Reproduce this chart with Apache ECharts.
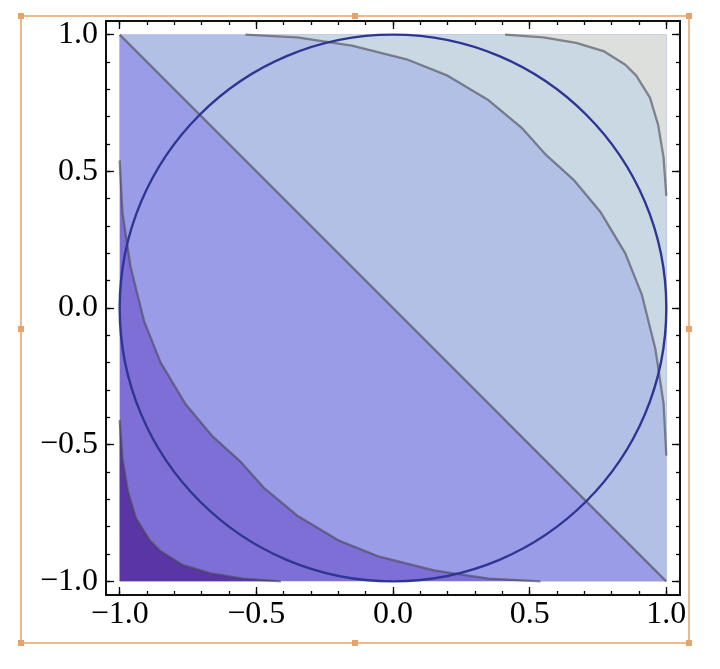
<!DOCTYPE html>
<html><head><meta charset="utf-8">
<script src="https://cdn.jsdelivr.net/npm/echarts@6/dist/echarts.min.js"></script>
<style>html,body{margin:0;padding:0;background:#fff}#c{width:720px;height:669px}</style>
</head><body><div id="c"></div>
<script>
// contour curves
var curveA = [[0.41,1],[0.55,0.99],[0.67,0.97],[0.77,0.94],[0.85,0.89],[0.89,0.85],[0.94,0.77],[0.97,0.67],[0.99,0.55],[1,0.41]];
var curveB = [[-0.54,1],[-0.35,0.99],[-0.15,0.96],[0.05,0.91],[0.2,0.85],[0.35,0.76],[0.47,0.66],[0.56,0.56],[0.66,0.47],[0.76,0.35],[0.85,0.2],[0.91,0.05],[0.96,-0.15],[0.99,-0.35],[1,-0.54]];
var curveC = [[-1,0.54],[-0.99,0.35],[-0.96,0.15],[-0.91,-0.05],[-0.85,-0.2],[-0.76,-0.35],[-0.66,-0.47],[-0.56,-0.56],[-0.47,-0.66],[-0.35,-0.76],[-0.2,-0.85],[-0.05,-0.91],[0.15,-0.96],[0.35,-0.99],[0.54,-1]];
var curveD = [[-1,-0.41],[-0.99,-0.55],[-0.97,-0.67],[-0.94,-0.77],[-0.89,-0.85],[-0.85,-0.89],[-0.77,-0.94],[-0.67,-0.97],[-0.55,-0.99],[-0.41,-1]];
var diagonal = [[-1,1],[1,-1]];
var circle = [[0,0,1]];
var majorTicks = [-1,-0.5,0,0.5,1];
var minorTicks = [-1,-0.9,-0.8,-0.7,-0.6,-0.5,-0.4,-0.3,-0.2,-0.1,0,0.1,0.2,0.3,0.4,0.5,0.6,0.7,0.8,0.9,1];
var bandColors = ['#7e6fd6','#9a9ce8','#b3c0e6','#cad8e3','#dddfdc','#5a35a6'];

function fmt(v){
  var m = Math.round(v*2)/2;
  if (Math.abs(v-m) > 1e-6 || Math.abs(m) > 1) return '';
  return (m<0?'\u2212':'') + Math.abs(m).toFixed(1);
}
function poly(pts, color){
  return {type:'custom', xAxisIndex:0, yAxisIndex:0, silent:true, data:[0], z:1,
    renderItem:function(p,api){
      return {type:'polygon', shape:{points:pts.map(function(q){return api.coord(q);})}, style:{fill:color}};
    }};
}
function cline(pts){
  return {type:'line', xAxisIndex:0, yAxisIndex:0, data:pts, smooth:false, showSymbol:false, silent:true, z:3,
    lineStyle:{color:'rgba(70,70,80,0.6)', width:2.3}};
}
function mkAxis(isX, pos, ticks, len, labels){
  return {type:'value', position:pos, min:-1.05, max:1.05, interval:0.05, splitLine:{show:false},
    axisLine:{show:true, onZero:false, lineStyle:{color:'#000', width:1.5}},
    axisTick:{show:true, inside:true, length:len, customValues:ticks, lineStyle:{color:'#000', width:1.3}},
    axisLabel:{show:labels, formatter:fmt, margin:isX?4:8, showMinLabel:false, showMaxLabel:false,
      fontFamily:'"Liberation Serif", serif', fontSize:32, color:'#000', hideOverlap:false}};
}
var sq = [[-1,-1],[1,-1],[1,1],[-1,1]];
var option = {
  animation:false,
  grid:{left:106, width:574, top:21, height:574},
  xAxis:[mkAxis(true,'bottom',majorTicks,8,true), mkAxis(true,'bottom',minorTicks,4,false),
         mkAxis(true,'top',majorTicks,8,false), mkAxis(true,'top',minorTicks,4,false)],
  yAxis:[mkAxis(false,'left',majorTicks,8,true), mkAxis(false,'left',minorTicks,4,false),
         mkAxis(false,'right',majorTicks,8,false), mkAxis(false,'right',minorTicks,4,false)],
  series:[
    poly(sq, bandColors[0]),
    poly(curveC.concat([[1,-1],[1,1],[-1,1]]), bandColors[1]),
    poly([[-1,1],[1,1],[1,-1]], bandColors[2]),
    poly(curveB.concat([[1,1]]), bandColors[3]),
    poly(curveA.concat([[1,1]]), bandColors[4]),
    poly(curveD.concat([[-1,-1]]), bandColors[5]),
    cline(curveA), cline(curveB), cline(curveC), cline(curveD), cline(diagonal),
    {type:'custom', xAxisIndex:0, yAxisIndex:0, data:circle, z:4, silent:true,
      renderItem:function(p,api){
        var c = api.coord([api.value(0),api.value(1)]);
        var r = api.size([api.value(2),api.value(2)]);
        return {type:'ellipse', shape:{cx:c[0], cy:c[1], rx:r[0], ry:r[1]}, style:{fill:null, stroke:'#2e3592', lineWidth:2.4}};
      }}
  ],
  graphic:[
    {type:'rect', shape:{x:21,y:16,width:668,height:627}, style:{fill:null, stroke:'#e8a36a', lineWidth:1.5}, silent:true},
    {type:'rect', shape:{x:18,y:13,width:6,height:6}, style:{fill:'#e8a36a'}},
    {type:'rect', shape:{x:352,y:13,width:6,height:6}, style:{fill:'#e8a36a'}},
    {type:'rect', shape:{x:686,y:13,width:6,height:6}, style:{fill:'#e8a36a'}},
    {type:'rect', shape:{x:18,y:326,width:6,height:6}, style:{fill:'#e8a36a'}},
    {type:'rect', shape:{x:686,y:326,width:6,height:6}, style:{fill:'#e8a36a'}},
    {type:'rect', shape:{x:18,y:640,width:6,height:6}, style:{fill:'#e8a36a'}},
    {type:'rect', shape:{x:352,y:640,width:6,height:6}, style:{fill:'#e8a36a'}},
    {type:'rect', shape:{x:686,y:640,width:6,height:6}, style:{fill:'#e8a36a'}}
  ]
};
echarts.init(document.getElementById('c')).setOption(option);
</script></body></html>
